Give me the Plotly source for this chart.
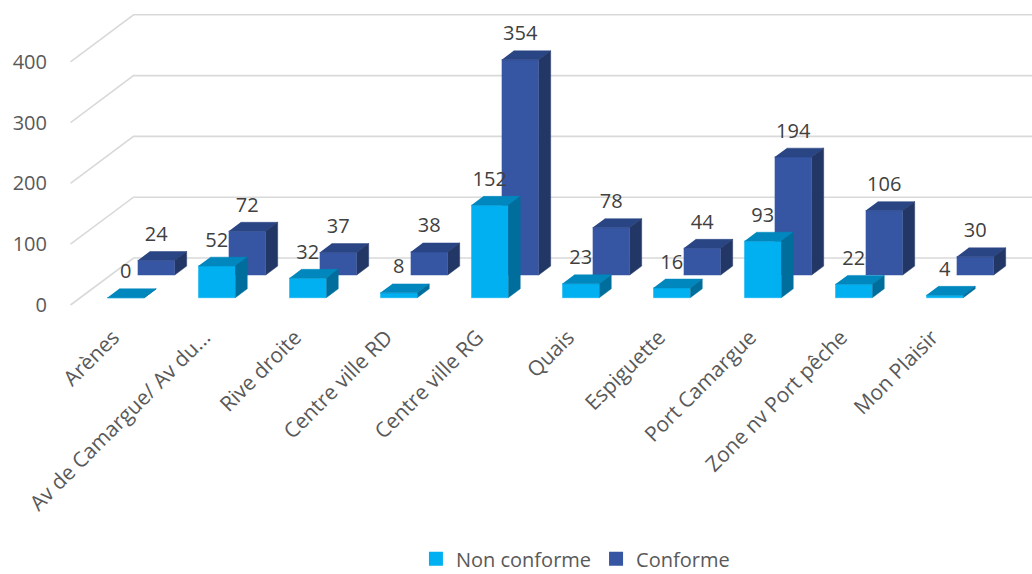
import plotly.graph_objects as go

# ---------------- data ----------------
categories = ["Arènes", "Av de Camargue/ Av du...", "Rive droite", "Centre ville RD",
              "Centre ville RG", "Quais", "Espiguette", "Port Camargue",
              "Zone nv Port pêche", "Mon Plaisir"]
non_conforme = [0, 52, 32, 8, 152, 23, 16, 93, 22, 4]
conforme = [24, 72, 37, 38, 354, 78, 44, 194, 106, 30]
y_ticks = [0, 100, 200, 300, 400]
series_names = ["Non conforme", "Conforme"]

# ---------------- geometry (pseudo-3D projection) ----------------
W, H = 1032, 574
ML, MR, MT, MB = 58, 0, 0, 254
PX_X = 91.0          # pixels per category
X0_PX = 116.0        # pixel of category 0 (front floor edge)
PX_V = 0.608         # pixels per value unit
Y0_PX = 305.0        # pixel of value 0 (front floor edge)
DX = 63.0 / PX_X     # full floor depth, x shift (category units)
DV = 47.0 / PX_V     # full floor depth, y shift (value units)
HALF_W = 18.5 / PX_X
BAR_D = 0.19
ROW_D = {"Non conforme": 0.155, "Conforme": 0.638}

x_range = [(ML - X0_PX) / PX_X, (W - MR - X0_PX) / PX_X]
y_range = [(Y0_PX - (H - MB)) / PX_V, (Y0_PX - MT) / PX_V]


def proj(x, v, d):
    return x + d * DX, v + d * DV


fig = go.Figure()

# gridlines (left wall slant + back wall)
gx, gy = [], []
for t in y_ticks:
    a = proj(-0.5, t, 0)
    b = proj(-0.5, t, 1)
    c = proj(x_range[1] + 1, t, 1)
    gx += [a[0], b[0], c[0], None]
    gy += [a[1], b[1], c[1], None]
fig.add_trace(go.Scatter(x=gx, y=gy, mode="lines", line=dict(color="#D9D9D9", width=1.6),
                         hoverinfo="skip", showlegend=False))

colors = {
    "Non conforme": {"face": "#00B0F0", "top": "#0088BE", "side": "#006E9C"},
    "Conforme": {"face": "#3656A3", "top": "#2A4584", "side": "#233766"},
}


def add_row(name, values):
    d0 = ROW_D[name]
    d1 = d0 + BAR_D
    faces = {"face": ([], []), "top": ([], []), "side": ([], [])}
    for i, v in enumerate(values):
        l, r = i - HALF_W, i + HALF_W
        polys = {
            "face": [(l, 0, d0), (r, 0, d0), (r, v, d0), (l, v, d0)],
            "top": [(l, v, d0), (r, v, d0), (r, v, d1), (l, v, d1)],
            "side": [(r, 0, d0), (r, 0, d1), (r, v, d1), (r, v, d0)],
        }
        for k, pts in polys.items():
            for p in pts:
                px, py = proj(*p)
                faces[k][0].append(px)
                faces[k][1].append(py)
            faces[k][0].append(None)
            faces[k][1].append(None)
    for k in ["face", "top", "side"]:
        c = colors[name][k]
        fig.add_trace(go.Scatter(x=faces[k][0], y=faces[k][1], mode="lines", fill="toself",
                                 fillcolor=c, line=dict(color=c, width=0.5),
                                 hoverinfo="skip", showlegend=False))
    # data labels
    lx, ly, lt = [], [], []
    for i, v in enumerate(values):
        px, _ = proj(i, v, d0)
        _, py = proj(i, v, d1)
        lx.append(px)
        ly.append(py + 15.5 / PX_V)
        lt.append(str(v))
    fig.add_trace(go.Scatter(x=lx, y=ly, mode="text", text=lt, textposition="middle center",
                             textfont=dict(size=20, color="#404040", family="Open Sans"),
                             hoverinfo="skip", showlegend=False))


add_row("Conforme", conforme)
add_row("Non conforme", non_conforme)

# legend entries
for name in series_names:
    fig.add_trace(go.Scatter(x=[None], y=[None], mode="markers", name=name,
                             marker=dict(symbol="square", size=14, color=colors[name]["face"])))

fig.update_layout(
    width=W, height=H,
    margin=dict(l=ML, r=MR, t=MT, b=MB, autoexpand=False),
    paper_bgcolor="white", plot_bgcolor="white",
    font=dict(family="Open Sans", color="#595959", size=20),
    xaxis=dict(range=x_range, showgrid=False, zeroline=False, showline=False,
               tickmode="array", tickvals=[i - 0.03 for i in range(len(categories))],
               ticktext=categories, tickangle=-45, ticks="", automargin=False,
               tickfont=dict(size=21, color="#595959")),
    yaxis=dict(range=y_range, showgrid=False, zeroline=False, showline=False,
               tickmode="array", tickvals=y_ticks, ticks="", ticklabelstandoff=10,
               automargin=False, tickfont=dict(size=20, color="#595959")),
    legend=dict(orientation="h", x=0.3675, xanchor="left", y=-0.746, yanchor="middle",
                font=dict(size=20, color="#595959"), itemclick=False),
    showlegend=True,
)

fig.write_html("out.html")
